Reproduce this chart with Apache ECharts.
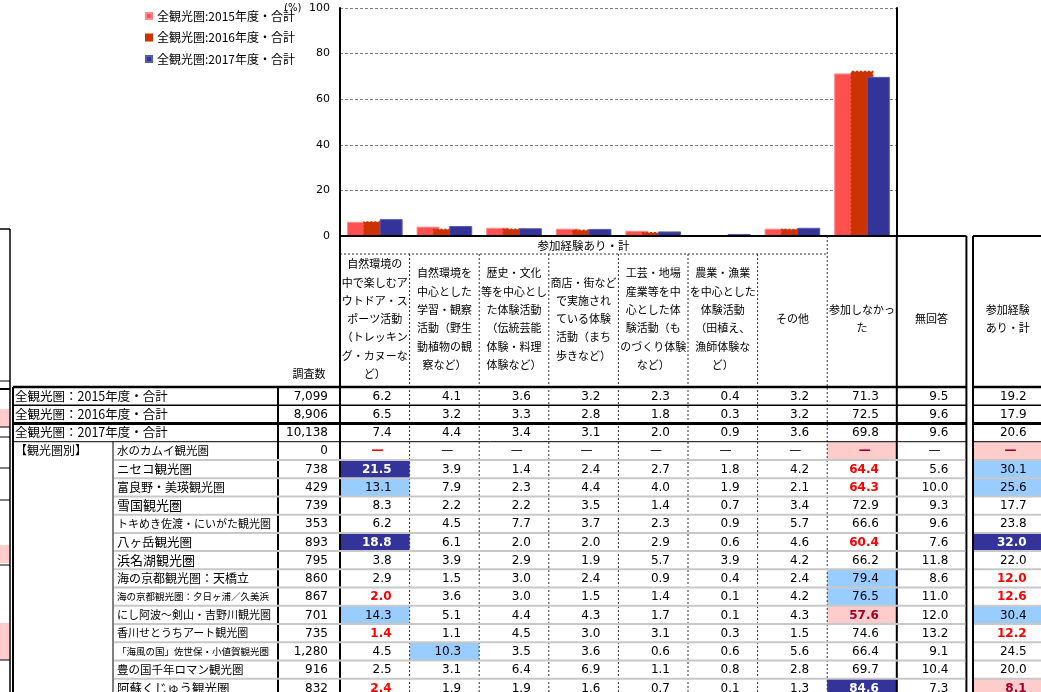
<!DOCTYPE html>
<html><head><meta charset="utf-8">
<script src="https://cdn.jsdelivr.net/npm/echarts/dist/echarts.min.js"></script>
<style>html,body{margin:0;padding:0;background:#fff}#c{width:1041px;height:692px}</style>
</head><body><div id="c"></div>
<script>
// ---------------- DATA ----------------
const seriesNames = ['全観光圏:2015年度・合計', '全観光圏:2016年度・合計', '全観光圏:2017年度・合計'];
const colHeaders = [
  '自然環境の\n中で楽しむア\nウトドア・ス\nポーツ活動\n（トレッキン\nグ・カヌーな\nど）',
  '自然環境を\n中心とした\n学習・観察\n活動（野生\n動植物の観\n察など）',
  '歴史・文化\n等を中心とし\nた体験活動\n（伝統芸能\n体験・料理\n体験など）',
  '商店・街など\nで実施され\nている体験\n活動（まち\n歩きなど）',
  '工芸・地場\n産業等を中\n心とした体\n験活動（も\nのづくり体験\nなど）',
  '農業・漁業\nを中心とした\n体験活動\n（田植え、\n漁師体験な\nど）',
  'その他',
  '参加しなかっ\nた',
  '無回答'
];
const totalHeader = '参加経験\nあり・計';
const groupHeader = '参加経験あり・計';
const nHeader = '調査数';
const axisUnit = '(%)';
const yTicks = [0, 20, 40, 60, 80, 100];
const groupLabel = '【観光圏別】';

const rowNames = [
  '全観光圏：2015年度・合計', '全観光圏：2016年度・合計', '全観光圏：2017年度・合計',
  '水のカムイ観光圏', 'ニセコ観光圏', '富良野・美瑛観光圏', '雪国観光圏',
  'トキめき佐渡・にいがた観光圏', '八ヶ岳観光圏', '浜名湖観光圏', '海の京都観光圏：天橋立',
  '海の京都観光圏：夕日ヶ浦／久美浜', 'にし阿波～剣山・吉野川観光圏', '香川せとうちアート観光圏',
  '「海風の国」佐世保・小値賀観光圏', '豊の国千年ロマン観光圏', '阿蘇くじゅう観光圏'
];
const sampleSize = [7099, 8906, 10138, 0, 738, 429, 739, 353, 893, 795, 860, 867, 701, 735, 1280, 916, 832];
const outdoor  = [6.2, 6.5, 7.4, null, 21.5, 13.1, 8.3, 6.2, 18.8, 3.8, 2.9, 2.0, 14.3, 1.4, 4.5, 2.5, 2.4];
const learning = [4.1, 3.2, 4.4, null, 3.9, 7.9, 2.2, 4.5, 6.1, 3.9, 1.5, 3.6, 5.1, 1.1, 10.3, 3.1, 1.9];
const history  = [3.6, 3.3, 3.4, null, 1.4, 2.3, 2.2, 7.7, 2.0, 2.9, 3.0, 3.0, 4.4, 4.5, 3.5, 6.4, 1.9];
const town     = [3.2, 2.8, 3.1, null, 2.4, 4.4, 3.5, 3.7, 2.0, 1.9, 2.4, 1.5, 4.3, 3.0, 3.6, 6.9, 1.6];
const craft    = [2.3, 1.8, 2.0, null, 2.7, 4.0, 1.4, 2.3, 2.9, 5.7, 0.9, 1.4, 1.7, 3.1, 0.6, 1.1, 0.7];
const farm     = [0.4, 0.3, 0.9, null, 1.8, 1.9, 0.7, 0.9, 0.6, 3.9, 0.4, 0.1, 0.1, 0.3, 0.6, 0.8, 0.1];
const other    = [3.2, 3.2, 3.6, null, 4.2, 2.1, 3.4, 5.7, 4.6, 4.2, 2.4, 4.2, 4.3, 1.5, 5.6, 2.8, 1.3];
const noneJoined = [71.3, 72.5, 69.8, null, 64.4, 64.3, 72.9, 66.6, 60.4, 66.2, 79.4, 76.5, 57.6, 74.6, 66.4, 69.7, 84.6];
const noAnswer = [9.5, 9.6, 9.6, null, 5.6, 10.0, 9.3, 9.6, 7.6, 11.8, 8.6, 11.0, 12.0, 13.2, 9.1, 10.4, 7.3];
const anyTotal = [19.2, 17.9, 20.6, null, 30.1, 25.6, 17.7, 23.8, 32.0, 22.0, 12.0, 12.6, 30.4, 12.2, 24.5, 20.0, 8.1];
const valueColumns = [outdoor, learning, history, town, craft, farm, other, noneJoined, noAnswer];

// ---------------- STYLES / LAYOUT ----------------
const CELL_STYLES = {
  navy:  {bg: '#333399', color: '#ffffff', bold: true},
  blue:  {bg: '#99ccff', color: '#000000', bold: false},
  red:   {bg: null, color: '#ff0000', bold: true},
  pink:  {bg: '#ffcccc', color: '#9c0030', bold: true},
  plain: {bg: null, color: '#000000', bold: false}
};
// key: "row,col"  (col 0..8 main columns, 9 = 参加経験あり・計)
const cellMarks = {
  '3,0': 'red', '3,7': 'pink', '3,9': 'pink',
  '4,0': 'navy', '4,7': 'red', '4,9': 'blue',
  '5,0': 'blue', '5,7': 'red', '5,9': 'blue',
  '8,0': 'navy', '8,7': 'red', '8,9': 'navy',
  '10,7': 'blue', '10,9': 'red',
  '11,0': 'red', '11,7': 'blue', '11,9': 'red',
  '12,0': 'blue', '12,7': 'pink', '12,9': 'blue',
  '13,0': 'red', '13,9': 'red',
  '14,1': 'blue',
  '16,0': 'red', '16,7': 'navy', '16,9': 'pink'
};
// font size of each row label (the source font is proportional, this one is not)
const nameFontSize = [12.5, 12.5, 12.5, 11.5, 12.5, 12, 13, 11, 12.5, 13, 12, 9.5, 11, 11, 9.5, 11.5, 12.5];

const LY = {
  chartTop: 8, axisY: 236, headSplitY: 254, bodyTop: 387, bodyH: 310,
  colLeft: 340, colW: 69.6, sepLeft: 973, nLeft: 278, labelLeft: 13, subLeft: 113, right: 1041
};
const rowH = LY.bodyH / rowNames.length;
const bodyBottom = LY.bodyTop + LY.bodyH;
const colX = i => LY.colLeft + i * LY.colW;

const JP = '"Noto Sans CJK JP", sans-serif';
const NUM = '"DejaVu Sans", sans-serif';

function fmt(v) { return v == null ? '—' : v.toFixed(1); }
function styleOf(r, c) { return CELL_STYLES[cellMarks[r + ',' + c] || 'plain']; }

function cellRenderer(getText, getStyle, padNum, padDash) {
  return function (params, api) {
    const c = api.value(0), r = api.value(1);
    const p = api.coord([c, r]);
    const s = api.size([1, 1]);
    const st = getStyle(r, c);
    const txt = getText(r, c);
    const children = [];
    if (st.bg) {
      children.push({type: 'rect', shape: {x: p[0] - s[0] / 2, y: p[1] - s[1] / 2, width: s[0], height: s[1]},
        style: {fill: st.bg}});
    }
    children.push({type: 'text', x: p[0] + s[0] / 2 - (txt === '—' ? padDash : padNum), y: p[1] + 0.5,
      style: {text: txt, align: 'right', verticalAlign: 'middle', fill: st.color,
        fontFamily: NUM, fontSize: 12, fontWeight: st.bold ? 'bold' : 'normal'}});
    return {type: 'group', children};
  };
}

// ---------------- FRAME (table rules) ----------------
const frame = [];
function hl(y, x1, x2, w, color, dash) {
  frame.push({type: 'line', silent: true, z: 100, shape: {x1, y1: y, x2, y2: y},
    style: {stroke: color || '#000', lineWidth: w, lineDash: dash || null}});
}
function vl(x, y1, y2, w, color, dash) {
  frame.push({type: 'line', silent: true, z: 100, shape: {x1: x, y1, x2: x, y2},
    style: {stroke: color || '#000', lineWidth: w, lineDash: dash || null}});
}
const DOT = [2, 2];
hl(LY.axisY, colX(0), colX(9), 2);
hl(LY.axisY, LY.sepLeft, LY.right, 2);
hl(LY.headSplitY, colX(0), colX(7), 1, '#333', DOT);
for (let i = 1; i <= 6; i++) vl(colX(i), LY.headSplitY, bodyBottom, 1, '#333', DOT);
vl(colX(7), LY.axisY, bodyBottom, 1, '#333', DOT);
vl(colX(0), LY.axisY, bodyBottom, 2);
vl(colX(8), LY.axisY, bodyBottom, 2);
vl(colX(9), LY.axisY, bodyBottom, 2);
vl(LY.sepLeft, LY.axisY, bodyBottom, 2);
vl(LY.nLeft, LY.bodyTop, bodyBottom, 2);
vl(LY.labelLeft, LY.bodyTop, bodyBottom, 2);
vl(LY.subLeft, LY.bodyTop + 3 * rowH, bodyBottom, 1);
const rowRule = [[2.5, '#000'], [1.5, '#000'], [3, '#000'], [1, '#000']];
for (let k = 0; k < rowNames.length; k++) {
  const y = LY.bodyTop + k * rowH;
  if (k < 4) {
    hl(y, LY.labelLeft, colX(9), rowRule[k][0], rowRule[k][1]);
    hl(y, LY.sepLeft, LY.right, rowRule[k][0], rowRule[k][1]);
  } else {
    hl(y, LY.subLeft + 1, colX(9) - 1, 2, '#c8c8c8');
    hl(y, LY.sepLeft + 1, LY.right, 2, '#c8c8c8');
  }
}
// fragments of the neighbouring sheet on the far left
vl(10, 229, 692, 1.5);
hl(229, 0, 10, 1.5);
[[381, 1], [389, 2], [427, 1], [437, 1], [468, 1], [500, 1], [565, 1], [660, 1]].forEach(a => hl(a[0], 0, 10, a[1]));
[[409, 18], [545, 18], [623, 37]].forEach(a => frame.push({type: 'rect', silent: true, z: 90,
  shape: {x: 0, y: a[0], width: 9, height: a[1]}, style: {fill: '#ffcccc'}}));

frame.push({type: 'text', silent: true, z: 100, x: (colX(0) + colX(7)) / 2, y: (LY.axisY + LY.headSplitY) / 2 + 1,
  style: {text: groupHeader, align: 'center', verticalAlign: 'middle', fontFamily: JP, fontSize: 11.5, fill: '#000'}});
frame.push({type: 'text', silent: true, z: 100, x: 284, y: 8,
  style: {text: axisUnit, align: 'left', verticalAlign: 'middle', fontFamily: NUM, fontSize: 10, fill: '#000'}});

// ---------------- OPTION ----------------
const barColors = ['#ff5050', '#cc3300', '#333399'];
const barBorders = [
  {borderColor: '#ff8c8c', borderWidth: 1},
  {borderColor: '#cc3300', borderWidth: 1.5, borderType: [2, 2]},
  {borderColor: '#5a5ab0', borderWidth: 1}
];
const barSeries = seriesNames.map((name, i) => ({
  name, type: 'bar', xAxisIndex: 0, yAxisIndex: 0,
  barWidth: 23, barGap: '-29%',
  itemStyle: Object.assign({color: barColors[i]}, barBorders[i]),
  data: valueColumns.slice(0, 8).map(col => col[i])
}));

const mainCells = [];
for (let r = 0; r < rowNames.length; r++) for (let c = 0; c < valueColumns.length; c++) mainCells.push([c, r]);
const singleCells = rowNames.map((_, r) => [0, r]);

const catRowAxis = (gridIndex, labels) => ({
  type: 'category', gridIndex, inverse: true, data: rowNames,
  axisLine: {show: false}, axisTick: {show: false}, splitLine: {show: false},
  axisLabel: labels || {show: false}
});
const headerAxis = (gridIndex, data, margin) => ({
  type: 'category', gridIndex, position: 'top', data,
  axisLine: {show: false}, axisTick: {show: false}, splitLine: {show: false},
  axisLabel: {interval: 0, margin, verticalAlign: 'middle', align: 'center', lineHeight: 18.3,
    fontSize: 11, fontFamily: JP, color: '#000'}
});

const labelRich = {p: {fontFamily: JP, fontSize: 12, color: '#000', width: LY.subLeft - LY.labelLeft + 2, align: 'left'}};
nameFontSize.forEach((fs, i) => { labelRich['f' + i] = {fontFamily: JP, fontSize: fs, color: '#000'}; });

const option = {
  animation: false,
  backgroundColor: '#fff',
  legend: {
    data: seriesNames, orient: 'vertical', left: 145, top: 10, padding: 0,
    itemWidth: 6, itemHeight: 6, itemGap: 9.5, icon: 'rect',
    textStyle: {fontFamily: JP, fontSize: 12, color: '#000'}
  },
  grid: [
    {left: LY.colLeft, top: LY.chartTop, width: 8 * LY.colW, height: LY.axisY - LY.chartTop, outerBoundsMode: 'none'},
    {left: LY.colLeft, top: LY.bodyTop, width: 9 * LY.colW, height: LY.bodyH, outerBoundsMode: 'none'},
    {left: LY.nLeft, top: LY.bodyTop, width: LY.colLeft - LY.nLeft, height: LY.bodyH, outerBoundsMode: 'none'},
    {left: LY.sepLeft, top: LY.bodyTop, width: LY.colW, height: LY.bodyH, outerBoundsMode: 'none'}
  ],
  xAxis: [
    {type: 'category', gridIndex: 0, data: colHeaders.slice(0, 8),
      axisLine: {show: true, lineStyle: {color: '#000', width: 2}}, axisTick: {show: false},
      axisLabel: {show: false}, splitLine: {show: false}},
    headerAxis(1, colHeaders, LY.bodyTop - 319),
    headerAxis(2, [nHeader], 13),
    headerAxis(3, [totalHeader], LY.bodyTop - 319)
  ],
  yAxis: [
    {type: 'value', gridIndex: 0, min: yTicks[0], max: yTicks[yTicks.length - 1], interval: yTicks[1] - yTicks[0],
      axisLine: {show: true, lineStyle: {color: '#000', width: 2}}, axisTick: {show: false},
      axisLabel: {margin: 10, fontSize: 11, fontFamily: NUM, color: '#000'},
      splitLine: {show: true, lineStyle: {color: '#808080', type: [3, 2], width: 1}}},
    {type: 'value', gridIndex: 0, position: 'right', min: yTicks[0], max: yTicks[yTicks.length - 1],
      interval: yTicks[1] - yTicks[0],
      axisLine: {show: true, lineStyle: {color: '#000', width: 2}}, axisTick: {show: false},
      axisLabel: {show: false}, splitLine: {show: false}},
    catRowAxis(1),
    catRowAxis(2, {
      interval: 0, align: 'left', margin: LY.nLeft - LY.labelLeft - 2, color: '#000',
      fontFamily: JP, fontSize: 12,
      formatter: function (value, idx) {
        if (idx < 3) return '{f' + idx + '|' + value + '}';
        const pre = idx === 3 ? groupLabel : ' ';
        return '{p|' + pre + '}{f' + idx + '|' + value + '}';
      },
      rich: labelRich
    }),
    catRowAxis(3)
  ],
  series: barSeries.concat([
    {type: 'custom', name: 'table-main', xAxisIndex: 1, yAxisIndex: 2, data: mainCells,
      renderItem: cellRenderer((r, c) => fmt(valueColumns[c][r]), styleOf, 18, 26)},
    {type: 'custom', name: 'table-n', xAxisIndex: 2, yAxisIndex: 3, data: singleCells,
      renderItem: cellRenderer((r) => sampleSize[r].toLocaleString('en-US'), () => CELL_STYLES.plain, 12, 12)},
    {type: 'custom', name: 'table-total', xAxisIndex: 3, yAxisIndex: 4, data: singleCells,
      renderItem: cellRenderer((r) => fmt(anyTotal[r]), (r) => styleOf(r, 9), 16, 26)}
  ]),
  graphic: frame
};

const chart = echarts.init(document.getElementById('c'), null, {renderer: 'canvas'});
chart.setOption(option);
</script>
</body></html>
